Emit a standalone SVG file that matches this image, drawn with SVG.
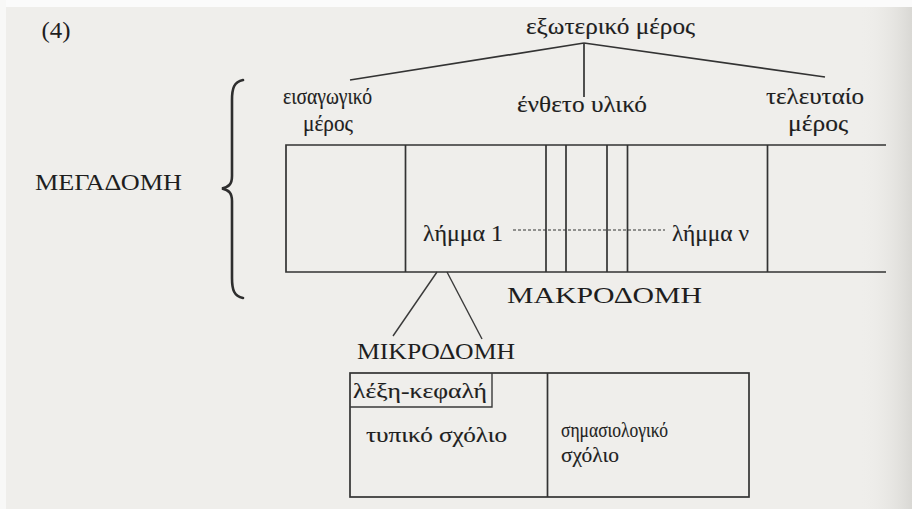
<svg xmlns="http://www.w3.org/2000/svg" width="912" height="509" viewBox="0 0 912 509">
  <defs>
    <linearGradient id="paperEdge" x1="0" y1="0" x2="1" y2="0">
      <stop offset="0" stop-color="#eeedea" stop-opacity="0"/>
      <stop offset="1" stop-color="#d9d8d4"/>
    </linearGradient>
    <style>
      .ln { stroke: #333; stroke-width: 1.7; fill: none; }
      .thin { stroke: #3a3a3a; stroke-width: 1.4; fill: none; }
      .dash { stroke: #333; stroke-width: 1.2; stroke-dasharray: 3 2; fill: none; }
      text { font-family: "Liberation Serif", "DejaVu Serif", serif; fill: #1e1e1e; stroke: #1e1e1e; stroke-width: 0.15; font-size: 24px; }
      .caps { font-size: 23px; stroke-width: 0; }
      .num { font-size: 24px; stroke-width: 0; }
      .small { font-size: 20px; }
      .mid { font-size: 22px; }
    </style>
  </defs>

  <!-- paper -->
  <rect width="912" height="509" fill="#efeeeb"/>
  <rect x="860" y="0" width="52" height="509" fill="url(#paperEdge)"/>
  <rect x="0" y="0" width="912" height="7" fill="#fbfbfb"/>
  <rect x="0" y="0" width="6" height="509" fill="#f8f8f7"/>

  <!-- example number -->
  <text id="label-num" class="num" x="41.5" y="38" textLength="29" lengthAdjust="spacingAndGlyphs">(4)</text>

  <!-- connectors: tree above the macrostructure and the link to the microstructure -->
  <g id="connectors">
    <line class="ln" x1="584" y1="43" x2="350" y2="80"/>
    <line class="ln" x1="584" y1="43" x2="584" y2="97"/>
    <line class="ln" x1="584" y1="43" x2="825" y2="77"/>
    <line class="thin" x1="437" y1="272" x2="393" y2="336"/>
    <line class="thin" x1="447" y1="272" x2="482" y2="339"/>
  </g>

  <!-- top of the tree -->
  <g id="node-outer">
    <text x="526" y="34" textLength="169" lengthAdjust="spacingAndGlyphs">εξωτερικό μέρος</text>
  </g>
  <g id="node-front">
    <text x="283" y="104" textLength="89" lengthAdjust="spacingAndGlyphs">εισαγωγικό</text>
    <text x="303" y="131" textLength="50" lengthAdjust="spacingAndGlyphs">μέρος</text>
  </g>
  <g id="node-middle">
    <text x="517" y="112" textLength="130" lengthAdjust="spacingAndGlyphs">ένθετο υλικό</text>
  </g>
  <g id="node-back">
    <text x="766" y="104" textLength="98" lengthAdjust="spacingAndGlyphs">τελευταίο</text>
    <text x="788" y="131" textLength="60" lengthAdjust="spacingAndGlyphs">μέρος</text>
  </g>

  <!-- megastructure brace and label -->
  <g id="node-mega">
    <path d="M243 80 C234 82 232 88 232 100 L232 176 C232 184 229 187 222 188.5 C229 190 232 193 232 201 L232 278 C232 290 234 296 243 298"
          stroke="#2e2e2e" stroke-width="2.6" fill="none" stroke-linecap="round"/>
    <text class="caps" x="35" y="190" textLength="147" lengthAdjust="spacingAndGlyphs">ΜΕΓΑΔΟΜΗ</text>
  </g>

  <!-- macrostructure band -->
  <g id="node-macro">
    <path class="ln" d="M886 145 H286 V272 H886"/>
    <line class="ln" x1="405.5" y1="145" x2="405.5" y2="272"/>
    <line class="ln" x1="546" y1="145" x2="546" y2="272"/>
    <line class="ln" x1="566" y1="145" x2="566" y2="272"/>
    <line class="ln" x1="607" y1="145" x2="607" y2="272"/>
    <line class="ln" x1="627.5" y1="145" x2="627.5" y2="272"/>
    <line class="ln" x1="767.5" y1="145" x2="767.5" y2="272"/>
    <line class="dash" x1="513" y1="230" x2="665" y2="230"/>
    <text x="423" y="241" textLength="80" lengthAdjust="spacingAndGlyphs">λήμμα 1</text>
    <text x="672" y="241" textLength="77" lengthAdjust="spacingAndGlyphs">λήμμα ν</text>
    <text class="caps" x="507" y="303" textLength="195" lengthAdjust="spacingAndGlyphs">ΜΑΚΡΟΔΟΜΗ</text>
  </g>

  <!-- microstructure -->
  <g id="node-micro">
    <text class="caps" x="357" y="359" textLength="158" lengthAdjust="spacingAndGlyphs">ΜΙΚΡΟΔΟΜΗ</text>
    <rect class="ln" x="350" y="373" width="399" height="124"/>
    <line class="ln" x1="547.5" y1="373" x2="547.5" y2="497"/>
    <path class="thin" d="M350 407 H492 V373"/>
    <text class="small" x="353" y="398" textLength="134" lengthAdjust="spacingAndGlyphs">λέξη-κεφαλή</text>
    <text class="mid" x="366" y="442" textLength="141" lengthAdjust="spacingAndGlyphs">τυπικό σχόλιο</text>
    <text class="mid" x="561" y="437" textLength="107" lengthAdjust="spacingAndGlyphs">σημασιολογικό</text>
    <text class="mid" x="561" y="462" textLength="58" lengthAdjust="spacingAndGlyphs">σχόλιο</text>
  </g>
</svg>
